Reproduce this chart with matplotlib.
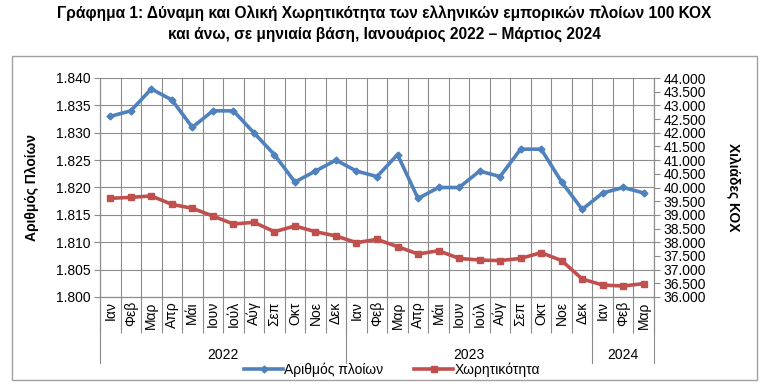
import matplotlib
matplotlib.use('Agg')
import matplotlib.pyplot as plt
from matplotlib import font_manager
from matplotlib.patches import Rectangle
from matplotlib.ticker import FixedLocator, FuncFormatter

names = {f.name for f in font_manager.fontManager.ttflist}
fam = 'Liberation Sans Narrow' if 'Liberation Sans Narrow' in names else 'Liberation Sans'
plt.rcParams['font.family'] = [fam, 'DejaVu Sans']

months = ['Ιαν', 'Φεβ', 'Μαρ', 'Απρ', 'Μάι', 'Ιουν', 'Ιούλ', 'Αύγ', 'Σεπ', 'Οκτ', 'Νοε', 'Δεκ']
month_labels = months + months + months[:3]
years = ['2022', '2023', '2024']
year_counts = [12, 12, 3]

ships = [1833, 1834, 1838, 1836, 1831, 1834, 1834, 1830, 1826, 1821, 1823, 1825,
         1823, 1822, 1826, 1818, 1820, 1820, 1823, 1822, 1827, 1827, 1821, 1816,
         1819, 1820, 1819]
gt = [39605, 39640, 39690, 39385, 39240, 38960, 38665, 38730, 38385, 38595, 38385, 38230,
      37985, 38105, 37840, 37570, 37690, 37410, 37350, 37330, 37410, 37620, 37330, 36657,
      36438, 36400, 36490]

blue = '#4F81BD'
red = '#C0504D'
grid = '#8C8C8C'

fig = plt.figure(figsize=(7.69, 3.88), dpi=100)
ax = fig.add_axes([100/769, 1-297/388, 554/769, 219/388])
ax2 = ax.twinx()

n = len(ships)
x = [i + 0.5 for i in range(n)]
ax.plot(x, ships, color=blue, lw=2.6, marker='D', ms=3.5, zorder=3, label='Αριθμός πλοίων')
ax2.plot(x, gt, color=red, lw=2.6, marker='s', ms=5, zorder=3, label='Χωρητικότητα')

ax.set_xlim(0, n)
ax.set_ylim(1800, 1840)
ax2.set_ylim(36000, 44000)
ax.set_yticks(range(1800, 1841, 5))
ax2.set_yticks(range(36000, 44001, 500))
ax.yaxis.set_major_formatter(FuncFormatter(lambda v, p: f'{v/1000:.3f}'))
ax2.yaxis.set_major_formatter(FuncFormatter(lambda v, p: f'{int(v):,}'.replace(',', '.')))

# category boundaries as major ticks, month names as minor labels
ax.xaxis.set_major_locator(FixedLocator(range(n + 1)))
ax.xaxis.set_minor_locator(FixedLocator(x))
ax.set_xticklabels([])
ax.set_xticklabels(month_labels, minor=True, rotation=90, fontsize=10)
ax.tick_params(axis='x', which='major', length=26, color=grid, width=0.8)
ax.tick_params(axis='x', which='minor', length=0, pad=3)
ax.tick_params(axis='y', length=4, color=grid, labelsize=10, pad=3)
ax2.tick_params(axis='y', length=4, color=grid, labelsize=10, pad=3)

ax.grid(True, which='major', color=grid, lw=0.8)
ax.set_axisbelow(True)
for a in (ax, ax2):
    for s in a.spines.values():
        s.set_color(grid)
        s.set_linewidth(0.8)
    a.spines['top'].set_visible(False)

# year groups
start = 0
tr = ax.get_xaxis_transform()
ax.plot([0, 0], [0, -0.30], color=grid, lw=0.8, transform=tr, clip_on=False)
for yr, c in zip(years, year_counts):
    ax.text(start + c / 2, -0.265, yr, transform=tr, ha='center', va='center', fontsize=10)
    start += c
    ax.plot([start, start], [0, -0.30], color=grid, lw=0.8, transform=tr, clip_on=False)

ax.set_ylabel('Αριθμός Πλοίων', fontsize=10, fontweight='bold', labelpad=12)
ax2.set_ylabel('Χιλιάδες ΚΟΧ', fontsize=10, fontweight='bold', rotation=270, labelpad=24)

h1, l1 = ax.get_legend_handles_labels()
h2, l2 = ax2.get_legend_handles_labels()
fig.legend(h1 + h2, l1 + l2, loc='center', bbox_to_anchor=(392/769, 1-370/388), ncol=2,
           frameon=False, fontsize=10, handlelength=2.8, columnspacing=2.2, handletextpad=0.1)

fig.text(0.5, 1-13/388, 'Γράφημα 1: Δύναμη και Ολική Χωρητικότητα των ελληνικών εμπορικών πλοίων 100 ΚΟΧ',
         ha='center', va='center', fontsize=11.2, fontweight='bold')
fig.text(0.5, 1-34/388, 'και άνω, σε μηνιαία βάση, Ιανουάριος 2022 – Μάρτιος 2024',
         ha='center', va='center', fontsize=11.2, fontweight='bold')

fig.patches.append(Rectangle((11.7/769, 1-380/388), 745/769, 324/388, transform=fig.transFigure,
                             fill=False, edgecolor='#A0A0A0', lw=1))

fig.savefig('out.png', dpi=100)
